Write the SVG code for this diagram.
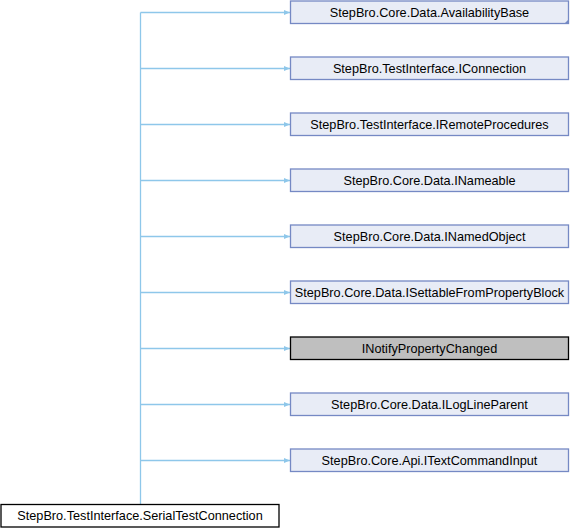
<svg xmlns="http://www.w3.org/2000/svg" width="570" height="528" viewBox="0 0 570 528">
<defs>
<style>
.n rect{fill:#e8ecf6;stroke:#7589c4;stroke-width:1.3}
.n text,.b text,.g text{font-family:"Liberation Sans",Arial,sans-serif;font-size:12.7px;fill:#000;text-anchor:middle}
.g rect{fill:#bfbfbf;stroke:#000;stroke-width:1.3}
.b rect{fill:#fff;stroke:#000;stroke-width:1.3}
.e{stroke:#8ec7ea;stroke-width:1.3;fill:none}
</style>
<marker id="ah" viewBox="0 0 6 6" refX="6" refY="3" markerWidth="6" markerHeight="6" markerUnits="userSpaceOnUse" orient="auto">
<path d="M0,0.5 L6,3 L0,5.5 Z" fill="#8ec7ea"/>
</marker>
</defs>
<g id="connectors">
<path class="e" d="M140.5,504 V12.5"/>
<path class="e" d="M140.5,12.5 H290" marker-end="url(#ah)"/>
<path class="e" d="M140.5,68.5 H290" marker-end="url(#ah)"/>
<path class="e" d="M140.5,124.5 H290" marker-end="url(#ah)"/>
<path class="e" d="M140.5,180.5 H290" marker-end="url(#ah)"/>
<path class="e" d="M140.5,236.5 H290" marker-end="url(#ah)"/>
<path class="e" d="M140.5,292.5 H290" marker-end="url(#ah)"/>
<path class="e" d="M140.5,348.5 H290" marker-end="url(#ah)"/>
<path class="e" d="M140.5,404.5 H290" marker-end="url(#ah)"/>
<path class="e" d="M140.5,460.5 H290" marker-end="url(#ah)"/>
</g>
<g id="node1" class="n"><rect x="290.5" y="1" width="278" height="22.5"/><path d="M564.5,23.5 L568.5,19.5 L568.5,23.5 Z" fill="#7589c4"/><text x="429.5" y="16.7">StepBro.Core.Data.AvailabilityBase</text></g>
<g id="node2" class="n"><rect x="290.5" y="57" width="278" height="22.5"/><text x="429.5" y="72.7">StepBro.TestInterface.IConnection</text></g>
<g id="node3" class="n"><rect x="290.5" y="113" width="278" height="22.5"/><text x="429.5" y="128.7">StepBro.TestInterface.IRemoteProcedures</text></g>
<g id="node4" class="n"><rect x="290.5" y="169" width="278" height="22.5"/><text x="429.5" y="184.7">StepBro.Core.Data.INameable</text></g>
<g id="node5" class="n"><rect x="290.5" y="225" width="278" height="22.5"/><text x="429.5" y="240.7">StepBro.Core.Data.INamedObject</text></g>
<g id="node6" class="n"><rect x="290.5" y="281" width="278" height="22.5"/><text x="429.5" y="296.7">StepBro.Core.Data.ISettableFromPropertyBlock</text></g>
<g id="node7" class="g"><rect x="290.5" y="337" width="278" height="22.5"/><text x="429.5" y="352.7">INotifyPropertyChanged</text></g>
<g id="node8" class="n"><rect x="290.5" y="393" width="278" height="22.5"/><text x="429.5" y="408.7">StepBro.Core.Data.ILogLineParent</text></g>
<g id="node9" class="n"><rect x="290.5" y="449" width="278" height="22.5"/><text x="429.5" y="464.7">StepBro.Core.Api.ITextCommandInput</text></g>
<g id="node0" class="b"><rect x="1" y="504.5" width="278" height="22.5"/><text x="140" y="520.2">StepBro.TestInterface.SerialTestConnection</text></g>
</svg>
